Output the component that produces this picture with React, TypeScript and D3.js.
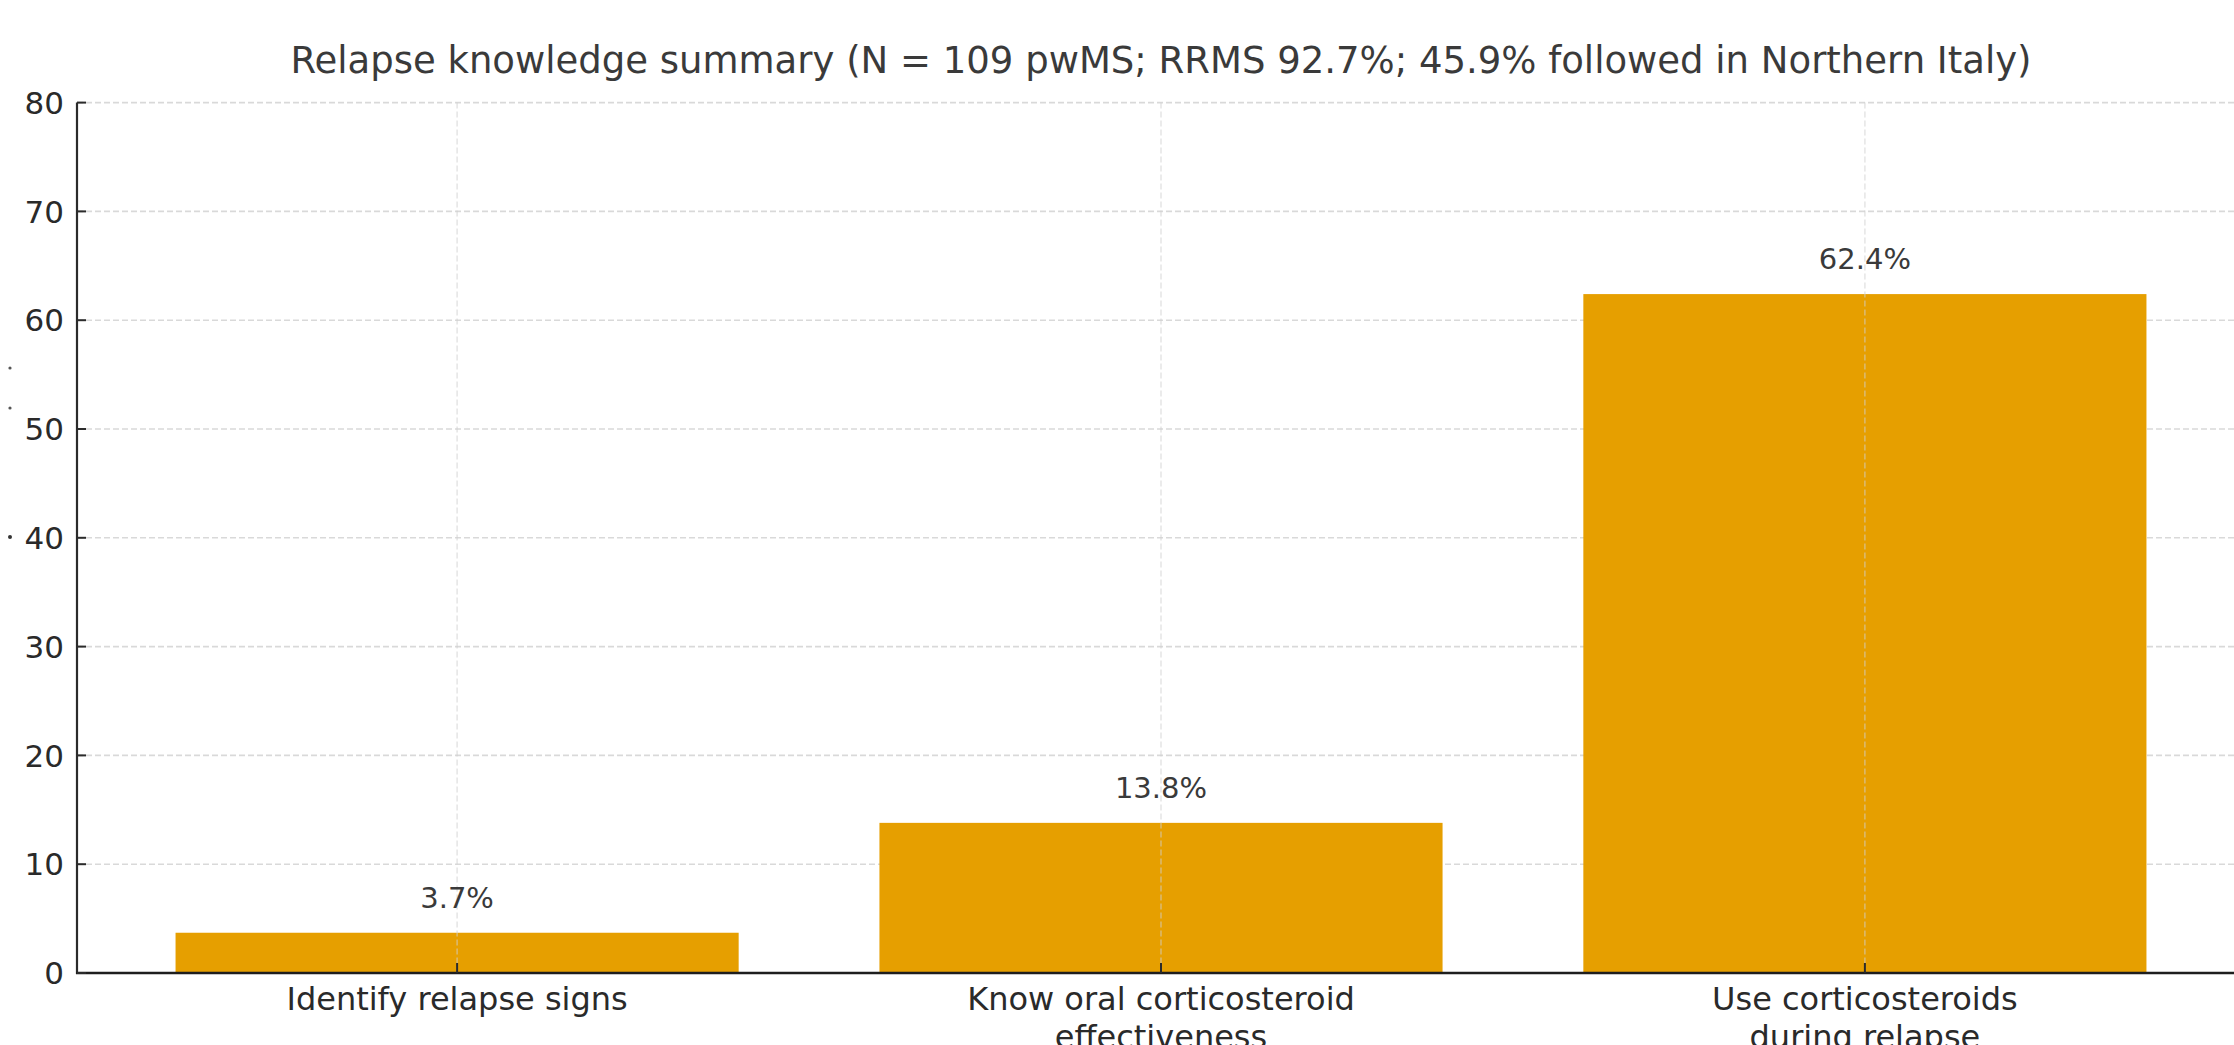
import React, { useEffect } from "react";
import * as d3 from "d3";

const categories: string[][] = [
  ["Identify relapse signs"],
  ["Know oral corticosteroid", "effectiveness"],
  ["Use corticosteroids", "during relapse"],
];
const values: number[] = [3.7, 13.8, 62.4];
const valueLabels: string[] = ["3.7%", "13.8%", "62.4%"];
const yTicks: number[] = [0, 10, 20, 30, 40, 50, 60, 70, 80];
const title = "Relapse knowledge summary (N = 109 pwMS; RRMS 92.7%; 45.9% followed in Northern Italy)";

const W = 2234;
const H = 1045;
const FONT = "DejaVu Sans, Verdana, sans-serif";

export default function App() {
  useEffect(() => {
    document.body.style.margin = "0";
  }, []);

  const left = 77;
  const right = 2245;
  const top = 102.6;
  const bottom = 973;
  const barW = 0.8;

  const x = d3.scaleLinear().domain([-0.54, 2.54]).range([left, right]);
  const y = d3.scaleLinear().domain([0, 80]).range([bottom, top]);
  const idx = d3.range(values.length);

  return (
    <svg width={W} height={H} style={{ position: "absolute", left: 0, top: 0, background: "#fff" }} fontFamily={FONT}>
      <rect x={0} y={0} width={W} height={H} fill="#fff" />
      {/* horizontal grid */}
      {yTicks.map((t) => (
        <line key={"hg" + t} x1={left} x2={W} y1={y(t)} y2={y(t)} stroke="#d9d9d9" strokeWidth={1.6} strokeDasharray="6,3" />
      ))}
      {/* bars */}
      {idx.map((i) => (
        <rect key={"b" + i} x={x(i - barW / 2)} y={y(values[i])} width={x(i + barW / 2) - x(i - barW / 2)} height={y(0) - y(values[i])} fill="#E69F00" />
      ))}
      {/* vertical grid */}
      {idx.map((i) => (
        <line key={"vg" + i} x1={x(i)} x2={x(i)} y1={top} y2={bottom} stroke="#d0d0d0" strokeOpacity={0.6} strokeWidth={1.4} strokeDasharray="6,3" />
      ))}
      {/* value labels */}
      {idx.map((i) => (
        <text key={"v" + i} x={x(i)} y={y(values[i]) - 25} textAnchor="middle" fontSize={29} fill="#3a3a3a">
          {valueLabels[i]}
        </text>
      ))}
      {/* axes */}
      <line x1={left} x2={left} y1={top} y2={bottom + 1} stroke="#2b2b2b" strokeWidth={2.2} />
      <line x1={left - 1} x2={W} y1={bottom} y2={bottom} stroke="#1e1e1e" strokeWidth={2.6} />
      {yTicks.map((t) => (
        <g key={"yt" + t}>
          <line x1={left} x2={left + 9} y1={y(t)} y2={y(t)} stroke="#2b2b2b" strokeWidth={2} />
          <text x={left - 13} y={y(t)} dy="0.36em" textAnchor="end" fontSize={31} fill="#2a2a2a">
            {t}
          </text>
        </g>
      ))}
      {idx.map((i) => (
        <g key={"xt" + i}>
          <line x1={x(i)} x2={x(i)} y1={bottom} y2={bottom - 10} stroke="#2b2b2b" strokeWidth={2} />
          {categories[i].map((ln, j) => (
            <text key={j} x={x(i)} y={bottom + 37 + j * 38} textAnchor="middle" fontSize={32} fill="#2a2a2a">
              {ln}
            </text>
          ))}
        </g>
      ))}
      {/* title */}
      <text x={(left + right) / 2} y={73} textAnchor="middle" fontSize={37} fill="#3a3a3a">
        {title}
      </text>
      {/* small stray marks at far left, as in the reference */}
      <circle cx={10} cy={368} r={1.6} fill="#555" />
      <circle cx={10} cy={408} r={1.6} fill="#555" />
      <circle cx={10} cy={537} r={2} fill="#333" />
    </svg>
  );
}
